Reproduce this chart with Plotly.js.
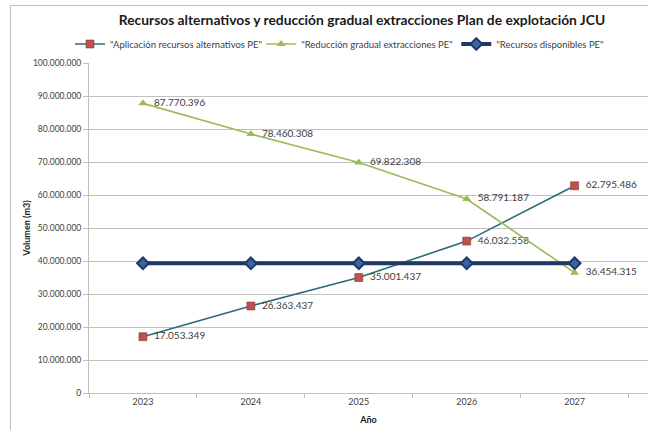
<!DOCTYPE html>
<html>
<head>
<meta charset="utf-8">
<script src="https://cdn.plot.ly/plotly-3.0.1.min.js"></script>
<style>
  html, body { margin: 0; padding: 0; background: #fff; overflow: hidden; }
  #wrap { position: relative; width: 648px; height: 430px; }
  #chart { position: absolute; left: 0; top: 0; width: 648px; height: 430px; }
  #frame { position: absolute; left: 10px; top: 5px; width: 700px; height: 500px;
           border: 1px solid #bfbfbf; box-sizing: border-box; pointer-events: none; }
</style>
</head>
<body>
<div id="wrap">
  <div id="chart"></div>
  <div id="frame"></div>
</div>
<script>
// Years of the exploitation plan
const years = ['2023', '2024', '2025', '2026', '2027'];

// Volumes in m3
const aplicacionRecursos = [17053349, 26363437, 35001437, 46032558, 62795486];
const reduccionExtracciones = [87770396, 78460308, 69822308, 58791187, 36454315];
const recursosDisponibles = [39300000, 39300000, 39300000, 39300000, 39300000];

const seriesNames = [
  '"Aplicación recursos alternativos PE"',
  '"Reducción gradual extracciones PE"',
  '"Recursos disponibles PE"'
];

const fmt = v => v.toString().replace(/\B(?=(\d{3})+(?!\d))/g, '.');
const FONT = 'Lato, "Liberation Sans", sans-serif';

const traces = [
  {
    x: years, y: aplicacionRecursos, name: seriesNames[0], legend: 'legend',
    type: 'scatter', mode: 'lines+markers+text',
    line: { color: '#2c6b7c', width: 1.6 },
    marker: { symbol: 'square', size: 8, color: '#c0504d', line: { color: '#8a3a38', width: 0.6 } },
    text: aplicacionRecursos.map(v => '  ' + fmt(v)),
    textposition: 'middle right',
    textfont: { family: FONT, size: 10, color: '#404040' },
    cliponaxis: false
  },
  {
    x: years, y: reduccionExtracciones, name: seriesNames[1], legend: 'legend2',
    type: 'scatter', mode: 'lines+markers+text',
    line: { color: '#9bbb59', width: 1.6 },
    marker: { symbol: 'triangle-up', size: 8, color: '#9bbb59' },
    text: reduccionExtracciones.map(v => '  ' + fmt(v)),
    textposition: 'middle right',
    textfont: { family: FONT, size: 10, color: '#404040' },
    cliponaxis: false
  },
  {
    x: years, y: recursosDisponibles, name: seriesNames[2], legend: 'legend3',
    type: 'scatter', mode: 'lines+markers',
    line: { color: '#1f3864', width: 4 },
    marker: { symbol: 'diamond', size: 9, color: '#3a64a4', line: { color: '#1f3864', width: 2 } },
    cliponaxis: false
  }
];

// One legend box per series, laid out in a single row above the plot
const legendBase = {
  orientation: 'h', xanchor: 'left', yanchor: 'middle', y: 1 + 19 / 330,
  font: { family: FONT, size: 9.5, color: '#404040' },
  itemwidth: 30, bgcolor: 'rgba(0,0,0,0)'
};

const layout = {
  width: 648, height: 430,
  margin: { l: 89, r: 0, t: 63, b: 37, pad: 0 },
  paper_bgcolor: '#ffffff', plot_bgcolor: '#ffffff',
  separators: ',.',
  font: { family: FONT, size: 9, color: '#404040' },
  title: {
    text: '<b>Recursos alternativos y reducción gradual extracciones Plan de explotación JCU</b>',
    font: { family: FONT, size: 13.8, color: '#1a1a1a' },
    x: 362 / 648, xanchor: 'center', xref: 'container',
    y: 1 - 20 / 430, yanchor: 'middle', yref: 'container'
  },
  showlegend: true,
  legend: Object.assign({}, legendBase, { x: -0.034 }),
  legend2: Object.assign({}, legendBase, { x: 0.308 }),
  legend3: Object.assign({}, legendBase, { x: 0.657 }),
  xaxis: {
    type: 'category', range: [-0.5, 4.68],
    showgrid: false, showline: true, linecolor: '#bfbfbf', linewidth: 1,
    ticks: 'outside', tickson: 'boundaries', ticklen: 4, tickcolor: '#bfbfbf',
    tickfont: { family: FONT, size: 9, color: '#404040' },
    title: { text: '<b>Año</b>', font: { family: FONT, size: 9, color: '#1a1a1a' }, standoff: 10 },
    fixedrange: true
  },
  yaxis: {
    range: [0, 100000000], dtick: 10000000, tick0: 0,
    tickformat: ',d',
    showgrid: true, gridcolor: '#c0c0c0', gridwidth: 1,
    zeroline: false,
    showline: true, linecolor: '#bfbfbf', linewidth: 1,
    ticks: 'outside', ticklen: 5, tickcolor: '#bfbfbf',
    tickfont: { family: FONT, size: 8.5, color: '#404040' },
    title: { text: '<b>Volumen (m3)</b>', font: { family: FONT, size: 9, color: '#1a1a1a' }, standoff: 0 },
    fixedrange: true
  }
};

Plotly.newPlot('chart', traces, layout, { staticPlot: true, displayModeBar: false });
</script>
</body>
</html>
